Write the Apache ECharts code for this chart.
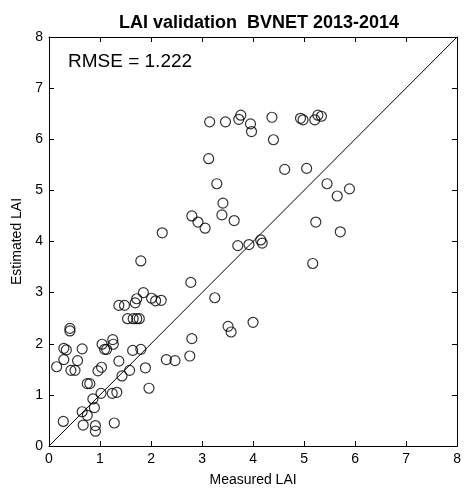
<!DOCTYPE html>
<html>
<head>
<meta charset="utf-8">
<script src="https://cdn.jsdelivr.net/npm/echarts@6/dist/echarts.min.js"></script>
<style>
  html, body { margin: 0; padding: 0; background: #fff; }
</style>
</head>
<body>
<div id="main" style="width: 464px;height: 492px"></div>
<script>
  // values
  const measured = [
    3.15, 3.46, 3.72, 3.76, 3.95, 3.97, 4.37, 4.40, 4.93, 4.98, 5.21, 5.27, 5.34,
    3.13, 3.29, 3.41, 3.39, 3.63, 2.80, 2.92, 3.06, 2.22, 3.70, 3.92, 4.15, 4.18,
    1.80, 2.78, 4.62, 5.05, 5.45, 5.65, 5.89, 5.23, 5.71, 5.17,
    1.85, 1.72, 1.69, 2.01, 2.09, 2.20, 1.37, 1.48, 1.54, 1.65, 1.72, 1.77,
    0.41, 0.41, 3.25, 3.51, 3.57, 4.00, 2.80, 2.76, 2.30, 2.47,
    0.29, 0.34, 0.65, 1.04, 1.25, 1.26, 1.09, 1.13, 1.64, 1.80,
    0.29, 0.56, 0.15, 0.43, 0.51, 1.37, 0.96, 1.03, 1.58, 1.89, 1.43,
    0.75, 0.80, 1.96, 1.02, 1.24, 1.33, 0.86, 0.65, 0.75, 0.89,
    0.28, 0.67, 0.91, 0.91, 1.28
  ]
  const estimated = [
    6.34, 6.34, 6.39, 6.47, 6.30, 6.15, 6.43, 5.99, 6.41, 6.38, 6.38, 6.47, 6.45,
    5.62, 5.13, 4.75, 4.52, 4.41, 4.50, 4.38, 4.26, 4.17, 3.92, 3.94, 4.03, 3.97,
    3.62, 3.20, 5.41, 5.43, 5.13, 4.89, 5.03, 4.38, 4.19, 3.57,
    3.00, 2.88, 2.80, 2.89, 2.84, 2.85, 2.75, 2.75, 2.49, 2.49, 2.49, 2.49,
    2.30, 2.25, 2.90, 2.34, 2.23, 2.42, 2.10, 1.76, 1.69, 1.67,
    1.91, 1.88, 1.90, 1.99, 2.08, 1.99, 1.89, 1.89, 1.87, 1.89,
    1.69, 1.67, 1.55, 1.48, 1.48, 1.66, 1.47, 1.54, 1.48, 1.53, 1.37,
    1.22, 1.22, 1.13, 1.03, 1.03, 1.05, 0.92, 0.67, 0.60, 0.75,
    0.48, 0.41, 0.40, 0.29, 0.45
  ]
  const oneToOne = [[0, 0], [8, 8]]
  const rmseText = 'RMSE = 1.222'

  const font = 'Liberation Sans, Arial, sans-serif'
  const points = measured.map((m, i) => [m, estimated[i]])

  function boxAxis(pos, show) {
    return {
      type: 'value', position: pos, min: 0, max: 8, interval: 1,
      axisLine: { show: true, onZero: false, lineStyle: { color: '#000', width: 1 } },
      axisTick: { show: true, inside: true, length: 5, lineStyle: { color: '#000' } },
      axisLabel: { show: show, color: '#000', fontFamily: font, fontSize: 14, margin: 6 },
      splitLine: { show: false }
    }
  }

  const xMain = boxAxis('bottom', true)
  xMain.name = 'Measured LAI'
  xMain.nameLocation = 'middle'
  xMain.nameGap = 27
  xMain.nameTextStyle = { color: '#000', fontFamily: font, fontSize: 14 }
  const yMain = boxAxis('left', true)
  yMain.name = 'Estimated LAI'
  yMain.nameLocation = 'middle'
  yMain.nameGap = 24
  yMain.nameTextStyle = { color: '#000', fontFamily: font, fontSize: 14 }

  echarts.init(document.getElementById('main')).setOption({
    animation: false,
    backgroundColor: '#fff',
    title: {
      text: 'LAI validation  BVNET 2013-2014',
      left: 254, top: 9, textAlign: 'center',
      textStyle: { fontFamily: font, fontSize: 18, fontWeight: 'bold', color: '#000' }
    },
    grid: { left: 49, top: 37, width: 411, height: 411 },
    xAxis: [xMain, boxAxis('top', false)],
    yAxis: [yMain, boxAxis('right', false)],
    graphic: [{
      type: 'text', left: 68, top: 52,
      style: { text: rmseText, fontFamily: font, fontSize: 19, fill: '#000' }
    }],
    series: [
      {
        type: 'line',
        data: oneToOne,
        symbol: 'none',
        lineStyle: { color: '#000', width: 1 },
        silent: true
      },
      {
        type: 'scatter',
        data: points,
        symbol: 'circle',
        symbolSize: 10,
        itemStyle: { color: 'rgba(0,0,0,0)', borderColor: '#000', borderWidth: 1.2 }
      }
    ]
  })
</script>
</body>
</html>
